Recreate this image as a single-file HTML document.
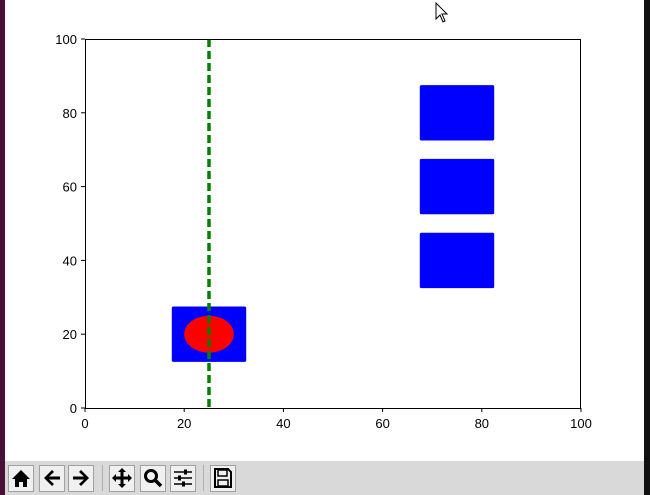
<!DOCTYPE html>
<html><head><meta charset="utf-8"><style>
body{margin:0;width:650px;height:495px;overflow:hidden;background:#fff;font-family:"Liberation Sans","DejaVu Sans",sans-serif;position:relative}
.tb{position:absolute;left:5px;right:6px;top:461px;height:34px;background:#d9d9d9}
.btn{position:absolute;top:4px;width:26px;height:27px;background:#f0f0f0;border:1px solid #a0a0a0;box-sizing:border-box;overflow:hidden}
.btn svg{position:absolute;left:2px;top:2px}
.sep{position:absolute;top:4px;width:1px;height:26px;background:#b0b0b0}
</style></head><body>
<div style="position:absolute;left:0;top:0;width:5px;height:495px;background:#4a1038"></div>
<div style="position:absolute;left:644px;top:0;width:6px;height:495px;background:#111"></div>
<svg id="c" width="650" height="461" style="position:absolute;left:0;top:0" font-family="Liberation Sans, DejaVu Sans, sans-serif" font-size="13"></svg>
<svg width="14" height="22" style="position:absolute;left:435px;top:2px"><path d="M1 1 L1 17 L5 13 L8 20 L10 19 L7 12 L12 12 Z" fill="#fff" stroke="#000"/></svg>
<div class="tb">
<div class="btn" style="left:3px"><svg width="20" height="20"><path d="M10 2 L1 11 L4 11 L4 19 L8 19 L8 14 L12 14 L12 19 L16 19 L16 11 L19 11 Z" fill="#000"/></svg></div>
<div class="btn" style="left:34px"><svg width="20" height="20"><path d="M2 10 L10 2 L12 4 L7 8.5 L18 8.5 L18 11.5 L7 11.5 L12 16 L10 18 Z" fill="#000"/></svg></div>
<div class="btn" style="left:63px"><svg width="20" height="20"><path d="M18 10 L10 2 L8 4 L13 8.5 L2 8.5 L2 11.5 L13 11.5 L8 16 L10 18 Z" fill="#000"/></svg></div>
<div class="sep" style="left:97px"></div>
<div class="btn" style="left:104px"><svg width="20" height="20"><path d="M10 0 L14 4 L11.5 4 L11.5 8.5 L16 8.5 L16 6 L20 10 L16 14 L16 11.5 L11.5 11.5 L11.5 16 L14 16 L10 20 L6 16 L8.5 16 L8.5 11.5 L4 11.5 L4 14 L0 10 L4 6 L4 8.5 L8.5 8.5 L8.5 4 L6 4 Z" fill="#000"/></svg></div>
<div class="btn" style="left:135px"><svg width="20" height="20"><circle cx="8" cy="8" r="5.5" fill="none" stroke="#000" stroke-width="3"/><line x1="12" y1="12" x2="18" y2="18" stroke="#000" stroke-width="3.5"/></svg></div>
<div class="btn" style="left:165px"><svg width="20" height="20"><g stroke="#000" stroke-width="1.5"><line x1="1" y1="4" x2="19" y2="4"/><line x1="1" y1="10" x2="19" y2="10"/><line x1="1" y1="16" x2="19" y2="16"/></g><rect x="11" y="1.5" width="3" height="5" fill="#000"/><rect x="5" y="7.5" width="3" height="5" fill="#000"/><rect x="9" y="13.5" width="3" height="5" fill="#000"/></svg></div>
<div class="sep" style="left:198px"></div>
<div class="btn" style="left:205px"><svg width="20" height="20"><path d="M2 1 L15 1 L18 4 L18 19 L2 19 Z" fill="none" stroke="#000" stroke-width="2"/><rect x="5" y="2" width="9" height="6" fill="none" stroke="#000" stroke-width="1.5"/><rect x="5" y="12" width="10" height="6" fill="none" stroke="#000" stroke-width="1.5"/></svg></div>
</div>
<script>
const xTicks=[0,20,40,60,80,100];
const yTicks=[0,20,40,60,80,100];
const rectX=[25,75,75,75];
const rectY=[20,40,60,80];
const rectW=15, rectH=15;
const ellipseCenter=[25,20];
const ellipseSize=[10,10];
const vlineX=25;
const L=85,R=581,T=39,B=408;
const sx=v=>L+(v/100)*(R-L), sy=v=>B-(v/100)*(B-T);
const svg=document.getElementById('c');const NS='http://www.w3.org/2000/svg';
function mk(t,a,p){const e=document.createElementNS(NS,t);for(const k in a)e.setAttribute(k,a[k]);(p||svg).appendChild(e);return e;}
const frame=mk('rect',{x:L,y:T,width:R-L,height:B-T,fill:'#fff',stroke:'none'});


rectX.forEach((x,i)=>{
 const r=mk('rect',{x:sx(x-rectW/2),y:sy(rectY[i]+rectH/2),width:sx(rectW)-sx(0),height:sy(0)-sy(rectH),fill:'#0000ff',rx:1.5});
 
 
});
const el=mk('ellipse',{cx:sx(ellipseCenter[0]),cy:sy(ellipseCenter[1]),rx:(sx(ellipseSize[0])-sx(0))/2,ry:(sy(0)-sy(ellipseSize[1]))/2,fill:'#ff0000'});


const vl=mk('line',{x1:sx(vlineX),x2:sx(vlineX),y1:T,y2:B,stroke:'#008000','stroke-width':3.5,'stroke-dasharray':'8 4'});


const border=mk('rect',{x:L+0.5,y:T+0.5,width:R-L-1,height:B-T,fill:'none',stroke:'#000','stroke-width':1});


xTicks.forEach(v=>{const x=sx(v);
 const tk=mk('line',{x1:x,x2:x,y1:B,y2:B+4,stroke:'#000'});
 
 
 const t=mk('text',{x:x,y:B+20,'text-anchor':'middle'});t.textContent=v;
 
 
});
yTicks.forEach(v=>{const y=sy(v);
 const tk=mk('line',{x1:L-4,x2:L,y1:y,y2:y,stroke:'#000'});
 
 
 const t=mk('text',{x:L-8,y:y+5,'text-anchor':'end'});t.textContent=v;
 
 
});
</script>
</body></html>
